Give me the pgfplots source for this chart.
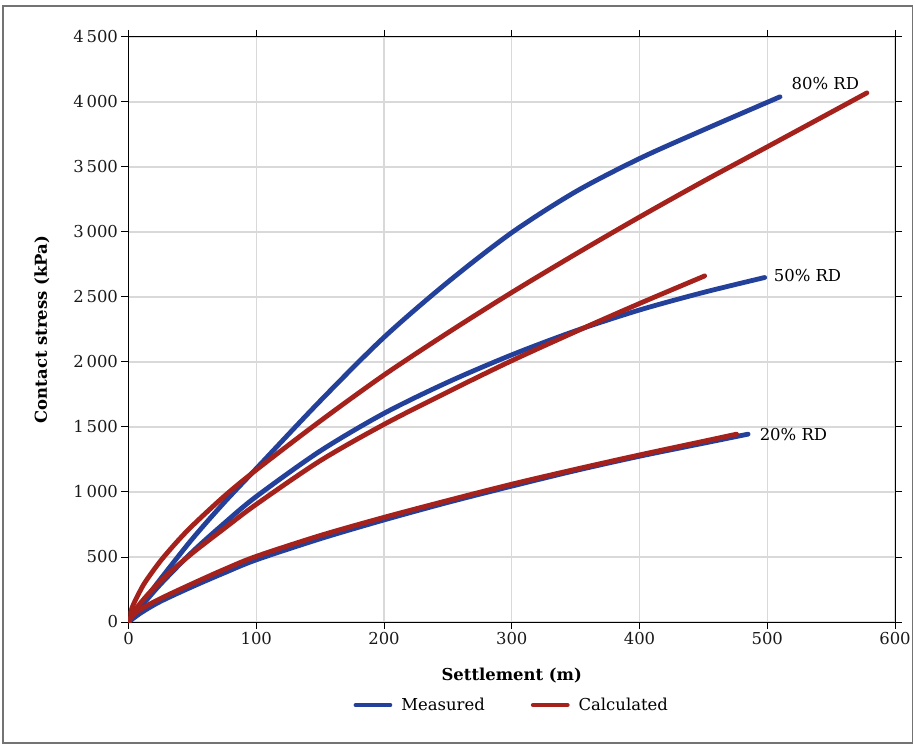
\documentclass[border=0pt]{standalone}
\usepackage{pgfplots}
\pgfplotsset{compat=1.18}
\usepackage{fontspec}
\setmainfont{DejaVu Serif}
\definecolor{mblue}{RGB}{35,64,155}
\definecolor{cred}{RGB}{165,33,28}
\newcommand{\chf}{\fontsize{16.5}{19}\selectfont}
\begin{document}
\begin{tikzpicture}
\useasboundingbox (-128.5bp,-122bp) rectangle (786.5bp,622bp);
\draw[black!55, line width=1.2bp] (-125.5bp,-121bp) rectangle (784bp,616bp);
\begin{axis}[
  at={(0,0)}, anchor=south west,
  width=766.5bp, height=585bp, scale only axis,
  xmin=0, xmax=600, ymin=0, ymax=4500,
  xtick={0,100,...,600}, ytick={0,500,...,4500},
  grid=major, major grid style={line width=1.2bp, color=black!15},
  tick align=outside, major tick length=7bp,
  tick style={black, line width=1bp},
  axis line style={line width=1bp},
  scaled ticks=false,
  /pgf/number format/1000 sep={\,},
  /pgf/number format/assume math mode=true,
  tick label style={font=\chf, text=black!90},
  xlabel={\textbf{Settlement (m)}},
  ylabel={\textbf{Contact stress (kPa)}},
  label style={font=\chf},
  xlabel style={at={(axis description cs:0.5,-0.0923)}, anchor=center},
  ylabel style={at={(axis description cs:-0.1129,0.5)}, anchor=center},
  legend style={at={(axis description cs:0.5,-0.142)}, anchor=center, draw=none,
    font=\chf, /tikz/every even column/.append style={column sep=44bp}},
  legend columns=2,
  legend image code/.code={\draw[#1, line cap=round] (0bp,0bp) -- (34bp,0bp); \path (41bp,0bp);},
  every axis plot/.append style={line width=4.8bp, line cap=round, smooth, tension=0.5},
]
\addlegendimage{mblue, line width=4.8bp}
\addlegendentry{Measured}
\addlegendimage{cred, line width=4.8bp}
\addlegendentry{Calculated}
% Measured 80% RD
\addplot[mblue, forget plot] coordinates {
(0,0) (10,135) (25,330) (50,640) (75,920) (100,1180) (150,1700) (200,2190)
(250,2615) (300,2995) (350,3310) (400,3565) (450,3785) (510,4040)};
% Measured 50% RD
\addplot[mblue, forget plot] coordinates {
(0,0) (10,120) (25,290) (50,540) (75,760) (100,965) (150,1315) (200,1605)
(250,1845) (300,2055) (350,2240) (400,2400) (450,2535) (498,2650)};
% Measured 20% RD
\addplot[mblue, forget plot] coordinates {
(0,0) (10,72) (25,158) (50,272) (75,378) (100,478) (150,640) (200,785)
(250,920) (300,1045) (350,1165) (400,1275) (450,1375) (485,1445)};
% Calculated 80% RD
\addplot[cred, forget plot] coordinates {
(0,0) (3,115) (10,256) (15,335) (25,469) (37,607) (50,741) (75,968) (100,1170)
(150,1545) (200,1900) (250,2225) (300,2535) (350,2830) (400,3115) (450,3390)
(500,3655) (578,4070)};
% Calculated 50% RD
\addplot[cred, forget plot] coordinates {
(0,0) (5,90) (15,210) (30,360) (50,530) (75,720) (100,905) (150,1240)
(200,1520) (250,1770) (300,2010) (356,2260) (400,2450) (451,2662)};
% Calculated 20% RD
\addplot[cred, forget plot] coordinates {
(0,0) (3,45) (10,100) (25,180) (50,295) (75,405) (100,505) (150,665)
(200,805) (250,935) (300,1060) (350,1175) (400,1285) (450,1390) (476,1445)};
\node[anchor=west, font=\chf, inner sep=0pt] at (axis cs:519,4146) {80\% RD};
\node[anchor=west, font=\chf, inner sep=0pt] at (axis cs:505,2662) {50\% RD};
\node[anchor=west, font=\chf, inner sep=0pt] at (axis cs:494,1446) {20\% RD};
\end{axis}
\end{tikzpicture}
\end{document}
